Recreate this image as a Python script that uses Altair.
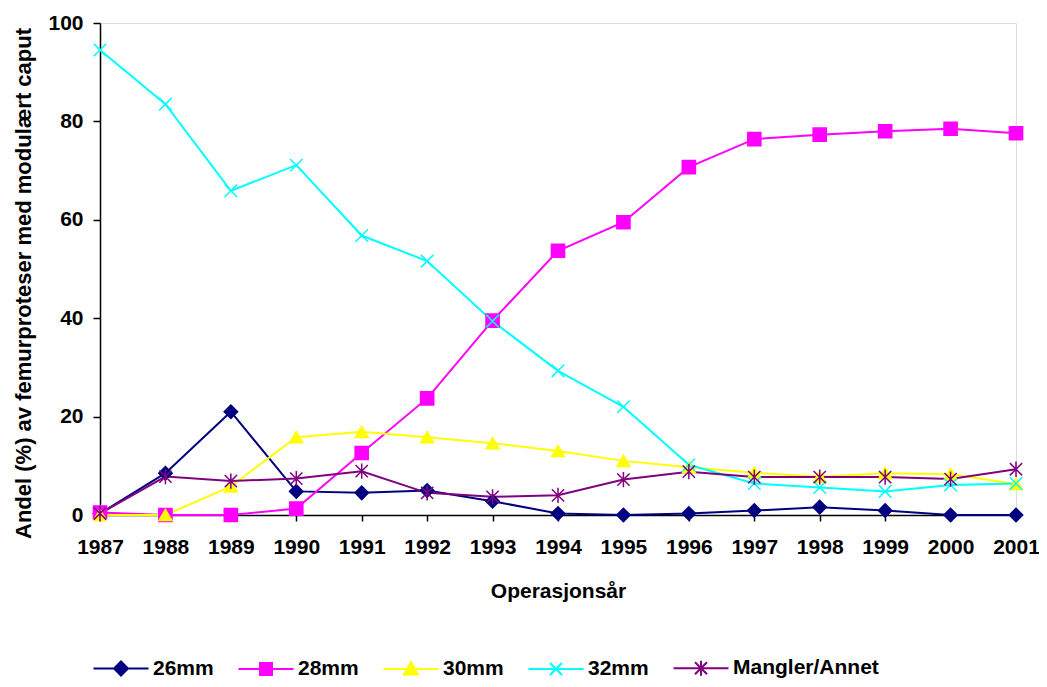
import altair as alt
import pandas as pd

years = list(range(1987, 2002))
series_names = ["26mm", "28mm", "30mm", "32mm", "Mangler/Annet"]

v26 = [0.3, 8.5, 21.0, 4.8, 4.5, 5.0, 2.8, 0.3, 0.0, 0.3, 0.9, 1.6, 0.9, 0.0, 0.0]
v28 = [0.5, 0.0, 0.0, 1.3, 12.6, 23.7, 39.5, 53.7, 59.5, 70.7, 76.4, 77.3, 78.0, 78.5, 77.6]
v30 = [0.0, 0.0, 5.8, 15.8, 16.9, 15.8, 14.6, 13.0, 11.0, 9.7, 8.6, 7.8, 8.5, 8.3, 6.3]
v32 = [94.5, 83.5, 65.9, 71.1, 56.8, 51.6, 39.4, 29.3, 22.0, 10.2, 6.4, 5.6, 4.8, 6.1, 6.4]
vman = [0.3, 7.8, 6.9, 7.4, 8.9, 4.5, 3.7, 4.0, 7.2, 8.8, 7.7, 7.7, 7.7, 7.3, 9.3]

all_values = [v26, v28, v30, v32, vman]

colors = ["#000080", "#FF00FF", "#FFFF00", "#00FFFF", "#800080"]
marker_shapes = [
    "diamond",
    "square",
    "triangle-up",
    "M-1,-1L1,1M-1,1L1,-1",
    "M-1,-1L1,1M-1,1L1,-1M0,-1.25L0,1.25",
]
marker_sizes = [180, 150, 190, 144, 144]
legend_shapes = [
    "M-2.75,0L2.75,0M0,-0.7L0.7,0L0,0.7L-0.7,0Z",
    "M-2.75,0L2.75,0M-0.6,-0.6L0.6,-0.6L0.6,0.6L-0.6,0.6Z",
    "M-2.75,0L2.75,0M0,-0.7L0.7,0.55L-0.7,0.55Z",
    "M-2.75,0L2.75,0M-0.6,-0.6L0.6,0.6M-0.6,0.6L0.6,-0.6",
    "M-2.75,0L2.75,0M-0.6,-0.6L0.6,0.6M-0.6,0.6L0.6,-0.6M0,-0.75L0,0.75",
]

rows = []
for i, (name, vals) in enumerate(zip(series_names, all_values)):
    for yr, v in zip(years, vals):
        rows.append({"series": name, "order": i, "year": yr, "value": v})
df = pd.DataFrame(rows)

FONT = "Liberation Sans"

x_enc = alt.X(
    "year:Q",
    scale=alt.Scale(domain=[1987, 2001], nice=False, zero=False),
    axis=alt.Axis(
        values=years, format="d", title="Operasjonsår", grid=False,
        labelFlush=False, labelOverlap=False,
        tickSize=6, tickColor="black", tickWidth=1.5,
        domainColor="black", domainWidth=1.5,
        labelFont=FONT, labelFontSize=21, labelFontWeight="bold", labelColor="black",
        labelBaseline="alphabetic", labelPadding=32,
        titleFont=FONT, titleFontSize=21, titleFontWeight="bold", titleColor="black",
        titleBaseline="alphabetic", titleY=82,
    ),
)
y_enc = alt.Y(
    "value:Q",
    scale=alt.Scale(domain=[0, 100], nice=False),
    axis=alt.Axis(
        values=[0, 20, 40, 60, 80, 100], title="Andel (%) av femurproteser med modulært caput",
        grid=False, tickSize=7, tickColor="black", tickWidth=1.5,
        domainColor="black", domainWidth=1.5,
        labelFont=FONT, labelFontSize=21, labelFontWeight="bold", labelColor="black",
        labelPadding=10,
        titleFont=FONT, titleFontSize=22, titleFontWeight="bold", titleColor="black",
        titleBaseline="alphabetic", titleX=-70, titleY=260,
    ),
)

base = alt.Chart(df)

lines = base.mark_line(strokeWidth=2).encode(
    x=x_enc, y=y_enc,
    color=alt.Color("series:N", scale=alt.Scale(domain=series_names, range=colors), legend=None),
    order="year:Q",
)

points = base.mark_point(filled=True, strokeWidth=1.5, opacity=1).encode(
    x=x_enc, y=y_enc,
    fill=alt.Fill("series:N", scale=alt.Scale(domain=series_names, range=colors), legend=None),
    stroke=alt.Stroke("series:N", scale=alt.Scale(domain=series_names, range=colors), legend=None),
    shape=alt.Shape("series:N", scale=alt.Scale(domain=series_names, range=marker_shapes), legend=None),
    size=alt.Size("series:N", scale=alt.Scale(domain=series_names, range=marker_sizes), legend=None),
)

leg = alt.Legend(
    orient="none", legendX=10, legendY=634, direction="horizontal", title=None,
    symbolSize=400, symbolStrokeWidth=2, symbolOpacity=1,
    labelFont=FONT, labelFontSize=21, labelFontWeight="bold", labelColor="black",
    labelOffset=21, columnPadding=20, padding=0, labelLimit=300,
)

legend_layer = base.transform_filter("datum.year < 0").mark_point(filled=True, strokeWidth=2, opacity=1).encode(
    x=x_enc, y=y_enc,
    fill=alt.Fill("series:N", scale=alt.Scale(domain=series_names, range=colors), legend=leg),
    stroke=alt.Stroke("series:N", scale=alt.Scale(domain=series_names, range=colors), legend=leg),
    shape=alt.Shape("series:N", scale=alt.Scale(domain=series_names, range=legend_shapes), legend=leg),
)

chart = alt.layer(lines, points, legend_layer).resolve_scale(
    color="independent", fill="independent", stroke="independent",
    shape="independent", size="independent",
).properties(
    width=916, height=492,
    autosize=alt.AutoSizeParams(type="none"),
    padding={"left": 92, "top": 15, "right": 23, "bottom": 164},
).configure_view(stroke=None).configure(background="white")

chart.save("out.html", embed_options={"renderer": "svg", "actions": False})
